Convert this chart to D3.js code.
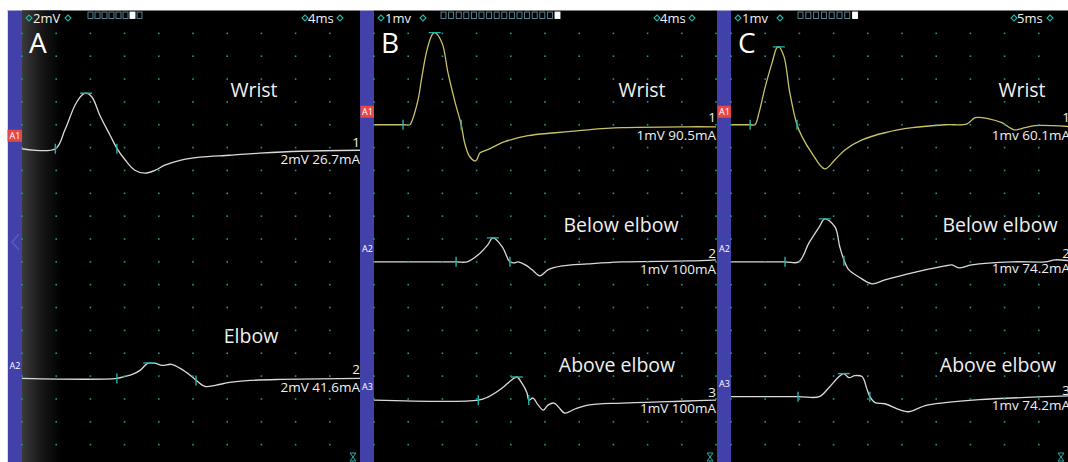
<!DOCTYPE html>
<html><head><meta charset="utf-8">
<script src="https://cdn.jsdelivr.net/npm/d3@7"></script>
<style>html,body{margin:0;padding:0;background:#fff;}svg{display:block;font-family:"Open Sans","Noto Sans",sans-serif;}</style>
</head><body><svg id="c" width="1068" height="462"></svg>
<script>
// ---------- data ----------
const panelLetters = ["A", "B", "C"];
const sensitivity = ["2mV", "1mv", "1mv"];
const sweepSpeed = ["4ms", "4ms", "5ms"];
const mVPerDiv = [2, 1, 1];
const msPerDiv = [4, 4, 5];
const siteNames = [["Wrist", "Elbow"], ["Wrist", "Below elbow", "Above elbow"], ["Wrist", "Below elbow", "Above elbow"]];
const traceNumbers = [["1", "2"], ["1", "2", "3"], ["1", "2", "3"]];
const stimLabels = [["2mV 26.7mA", "2mV 41.6mA"], ["1mV 90.5mA", "1mV 100mA", "1mV 100mA"], ["1mv 60.1mA", "1mv 74.2mA", "1mv 74.2mA"]];
const channelTags = [["A1", "A2"], ["A1", "A2", "A3"], ["A1", "A2", "A3"]];
const baselineDiv = [[6.05, 16.1], [5.0, 11.0, 17.05], [5.0, 11.0, 16.9]];
const sweepBoxes = [8, 16, 8];
const sweepActive = [6, 15, 7];

// traces: [ms, mV]
const A_wrist = [[0,0],[3.9,0],[5.0,1.62],[6.2,3.81],[7.0,4.68],[7.5,4.86],[8.2,4.51],[9.1,2.93],[10.3,1.18],[11.1,0.04],[12.1,-1.01],[13.2,-1.88],[14.4,-2.14],[15.6,-1.88],[16.7,-1.44],[18.5,-1.01],[20.8,-0.74],[24.3,-0.57],[27.8,-0.39],[32.5,-0.22],[40,-0.13]];
const A_elbow = [[0,0],[11.1,0],[12.1,0.18],[12.9,0.35],[13.8,0.70],[14.7,1.31],[15.6,1.31],[16.4,1.14],[17.5,1.23],[18.5,0.88],[19.7,0.26],[20.4,-0.18],[21.4,-0.70],[22.6,-0.61],[24.3,-0.35],[26.7,-0.18],[30.2,-0.09],[40,0]];
const B_wrist = [[0,0],[3.4,0],[4.2,0],[4.4,0.13],[5.15,1.09],[5.6,2.10],[6.2,3.28],[6.8,3.94],[7.1,4.03],[7.95,3.59],[8.65,2.28],[9.5,0.96],[10.2,0],[10.6,-0.79],[11.2,-1.40],[11.9,-1.58],[12.4,-1.23],[13.3,-1.09],[15.3,-0.74],[18.0,-0.48],[21.2,-0.35],[25.0,-0.22],[29.0,-0.13],[36.7,-0.09],[40,-0.09]];
const B_below = [[0,0],[9.6,0],[10.9,0],[12.2,0.31],[13.3,0.74],[13.9,1.05],[15.0,0.66],[15.7,0.09],[15.9,0],[16.5,-0.04],[16.8,0],[17.7,-0.13],[18.5,-0.35],[19.4,-0.61],[20.35,-0.35],[22.0,-0.18],[25.0,-0.09],[29.0,0],[36.7,0.04],[40,0.09]];
const B_above = [[0,0],[12.2,0],[13.3,0.13],[15.0,0.53],[16.1,0.88],[16.7,1.01],[17.3,0.74],[17.9,0.31],[18.1,0],[18.6,0.09],[19.2,-0.22],[19.8,-0.44],[20.35,-0.22],[21.05,-0.13],[21.6,-0.31],[22.3,-0.57],[23.5,-0.39],[25.0,-0.22],[29.0,-0.13],[36.7,-0.04],[40,0]];
const C_wrist = [[0,0],[2.8,0],[3.5,0],[4.1,0.53],[5.0,1.66],[6.0,2.71],[6.7,3.37],[7.0,3.41],[7.75,2.98],[8.6,1.40],[9.65,0],[10.4,-0.53],[11.8,-1.23],[13.7,-1.93],[15.2,-1.53],[16.7,-1.09],[19.15,-0.66],[22.5,-0.35],[26.5,-0.13],[31.3,0],[34.5,0.04],[35.7,0.31],[37.7,0.26],[39.6,0.09],[41.4,-0.22],[43.0,-0.13],[44.4,-0.04],[50,-0.09]];
const C_below = [[0,0],[7.9,0],[9.9,0],[11.4,0.83],[12.9,1.53],[13.7,1.88],[15.2,1.53],[15.9,0.66],[16.5,0.09],[17.25,-0.35],[18.7,-0.66],[20.6,-0.96],[22.5,-0.79],[26.5,-0.48],[31.3,-0.18],[32.3,-0.13],[33.3,-0.26],[35.2,-0.13],[41.1,0],[45.9,0],[47.4,0.09],[50,0.04]];
const C_above = [[0,0],[9.8,0],[12.9,0],[14.3,0.39],[15.8,0.88],[16.5,1.01],[17.25,0.83],[18.1,0.92],[19.15,0.88],[19.9,0.31],[20.3,0],[21.05,-0.26],[22.5,-0.31],[24.6,-0.57],[26.0,-0.66],[28.4,-0.39],[31.3,-0.26],[36.3,-0.13],[45.9,0],[50,0.04]];
const traces = [[A_wrist, A_elbow], [B_wrist, B_below, B_above], [C_wrist, C_below, C_above]];

// markers: [onset ms, peak ms, peak mV, end ms, end mV]
const A_marks = [[3.9, 7.5, 4.86, 11.1, 0.0], [11.1, 14.9, 1.35, 20.35, -0.18]];
const B_marks = [[3.4, 7.1, 4.03, 10.2, 0], [9.6, 13.9, 1.05, 15.9, 0], [12.2, 16.7, 1.01, 18.1, 0]];
const C_marks = [[2.8, 7.0, 3.41, 9.65, 0], [7.9, 13.7, 1.88, 16.5, 0.05], [9.8, 16.5, 1.01, 20.3, 0]];
const marks = [A_marks, B_marks, C_marks];
const yellowTrace = [[false, false], [true, false, false], [true, false, false]];

// ---------- layout ----------
const W = 1068, H = 462, TOP = 10.5, DIVY = 22.85, DIVX = 34.2;
const panelBox = [
  {bar: 7, left: 22, right: 360, labelRight: 360},
  {bar: 360, left: 374, right: 717, labelRight: 716},
  {bar: 717, left: 731, right: 1068, labelRight: 1070}
];
const siteLabelPos = [[[254, 97], [251, 343]], [[642, 97], [621, 232], [617, 372]], [[1022, 97], [1000, 232], [998, 372]]];
const numOffset = [[-2, -4], [-3, -4, -3], [-3, -4, -2]];
const stimOffset = [[15.5, 14], [15, 12, 13], [15, 11.5, 13]];
const boxStart = [88, 441, 798], boxStep = [7, 7.6, 7.8];
const TEAL = "#25b3a8", DOT = "#1c9a8c", BLUE = "#4141a9";

const svg = d3.select("#c");
const defs = svg.append("defs");
svg.append("rect").attr("width", W).attr("height", H).attr("fill", "#fff");

const grad = defs.append("linearGradient").attr("id", "vig").attr("x1", 0).attr("x2", 1).attr("y1", 0).attr("y2", 0);
grad.append("stop").attr("offset", 0).attr("stop-color", "#3a3a3a");
grad.append("stop").attr("offset", 0.5).attr("stop-color", "#161616");
grad.append("stop").attr("offset", 1).attr("stop-color", "#000");

const yDiv = d3.scaleLinear().domain([0, 20]).range([TOP, TOP + 20 * DIVY]);

panelBox.forEach((pb, p) => {
  const g = svg.append("g");
  const clipId = "clip" + p;
  defs.append("clipPath").attr("id", clipId).append("rect")
    .attr("x", pb.left).attr("y", TOP).attr("width", pb.right - pb.left).attr("height", H - TOP);
  g.append("rect").attr("x", pb.left).attr("y", TOP).attr("width", pb.right - pb.left).attr("height", H - TOP).attr("fill", "#000");
  if (p === 0) {
    g.append("rect").attr("x", pb.left).attr("y", TOP).attr("width", 40).attr("height", H - TOP).attr("fill", "url(#vig)");
  }
  g.append("rect").attr("x", pb.bar).attr("y", TOP).attr("width", pb.left - pb.bar).attr("height", H - TOP).attr("fill", BLUE);
  if (p === 0) {
    g.append("line").attr("x1", 7.5).attr("x2", 7.5).attr("y1", TOP).attr("y2", H).attr("stroke", "#e6e6a0").attr("stroke-width", 1);
    g.append("path").attr("d", "M19,234 L12,242 L19,250").attr("fill", "none").attr("stroke", "#5a5abf").attr("stroke-width", 1.5);
  }
  const xs = d3.scaleLinear().domain([0, 10 * msPerDiv[p]]).range([pb.left, pb.left + 10 * DIVX]);
  const inner = g.append("g").attr("clip-path", `url(#${clipId})`);
  const dots = [];
  d3.range(0, 11).forEach(c => d3.range(1, 20).forEach(r => dots.push([pb.left + c * DIVX, yDiv(r)])));
  g.append("g").selectAll("rect").data(dots.filter(d => d[0] <= pb.right + 1)).join("rect")
    .attr("x", d => d[0] - 0.8).attr("y", d => d[1] - 0.8).attr("width", 1.6).attr("height", 1.6).attr("fill", DOT);

  const hy = 18;
  const diamond = (x, y) => g.append("path").attr("d", `M${x},${y-3} L${x+3},${y} L${x},${y+3} L${x-3},${y} Z`)
    .attr("fill", "none").attr("stroke", TEAL).attr("stroke-width", 1.1);
  diamond(pb.left + 7, hy);
  g.append("text").attr("x", pb.left + 11).attr("y", hy + 4.5).attr("font-size", 13).attr("fill", "#f2f2f2").text(sensitivity[p]);
  diamond(pb.left + (p === 0 ? 46 : 49), hy);
  diamond(pb.left + 283, hy);
  g.append("text").attr("x", pb.left + 286).attr("y", hy + 4.5).attr("font-size", 13).attr("fill", "#f2f2f2").text(sweepSpeed[p]);
  diamond(pb.left + 318 + (p === 2 ? 1 : 0), hy);
  g.append("g").selectAll("rect").data(d3.range(sweepBoxes[p])).join("rect")
    .attr("x", i => boxStart[p] + i * boxStep[p]).attr("y", 12).attr("width", 5).attr("height", 6.5)
    .attr("fill", i => i === sweepActive[p] ? "#fff" : "none")
    .attr("stroke", i => i === sweepActive[p] ? "#fff" : "#5f8e9a").attr("stroke-width", 0.9);
  inner.append("text").attr("x", pb.left + 7).attr("y", 53).attr("font-size", 28).attr("fill", "#fff").text(panelLetters[p]);

  traces[p].forEach((tr, t) => {
    const base = baselineDiv[p][t];
    const ys = d3.scaleLinear().domain([0, mVPerDiv[p]]).range([yDiv(base), yDiv(base - 1)]);
    const line = d3.line().x(d => xs(d[0])).y(d => ys(d[1])).curve(d3.curveCatmullRom.alpha(0.5));
    inner.append("path").datum(tr).attr("d", line).attr("fill", "none")
      .attr("stroke", yellowTrace[p][t] ? "#c8c266" : "#d9d9d9").attr("stroke-width", 1.3);
    const m = marks[p][t];
    inner.append("line").attr("x1", xs(m[0])).attr("x2", xs(m[0])).attr("y1", ys(0) - 5).attr("y2", ys(0) + 5).attr("stroke", TEAL).attr("stroke-width", 1.4);
    inner.append("line").attr("x1", xs(m[1]) - 6).attr("x2", xs(m[1]) + 6).attr("y1", ys(m[2])).attr("y2", ys(m[2])).attr("stroke", TEAL).attr("stroke-width", 1.4);
    inner.append("line").attr("x1", xs(m[3])).attr("x2", xs(m[3])).attr("y1", ys(m[4]) - 5).attr("y2", ys(m[4]) + 5).attr("stroke", TEAL).attr("stroke-width", 1.4);
    const sp = siteLabelPos[p][t];
    inner.append("text").attr("x", sp[0]).attr("y", sp[1]).attr("text-anchor", "middle").attr("font-size", 19.5).attr("fill", "#f0f0f0").text(siteNames[p][t]);
    const rx = pb.labelRight;
    inner.append("text").attr("x", rx).attr("y", ys(0) + numOffset[p][t]).attr("text-anchor", "end").attr("font-size", 13.5).attr("fill", "#f0f0f0").text(traceNumbers[p][t]);
    inner.append("text").attr("x", rx).attr("y", ys(0) + stimOffset[p][t]).attr("text-anchor", "end").attr("font-size", 13.5).attr("fill", "#f0f0f0").text(stimLabels[p][t]);
    const ty = ys(0) - 13;
    if (t === 0) {
      g.append("rect").attr("x", pb.bar + 0.5).attr("y", ty - 6).attr("width", pb.left - pb.bar - 0.5).attr("height", 12).attr("fill", "#e8474a");
    }
    g.append("text").attr("x", (pb.bar + pb.left) / 2 + 0.5).attr("y", ty + 3.3).attr("text-anchor", "middle").attr("font-size", 9).attr("fill", "#fff").text(channelTags[p][t]);
  });
  const bx = pb.right - 7, by = 457;
  g.append("path").attr("d", `M${bx-3},${by-4} L${bx+3},${by-4} L${bx},${by} Z M${bx-3},${by+4} L${bx+3},${by+4} L${bx},${by} Z`)
    .attr("fill", "none").attr("stroke", TEAL).attr("stroke-width", 1);
});
</script></body></html>
